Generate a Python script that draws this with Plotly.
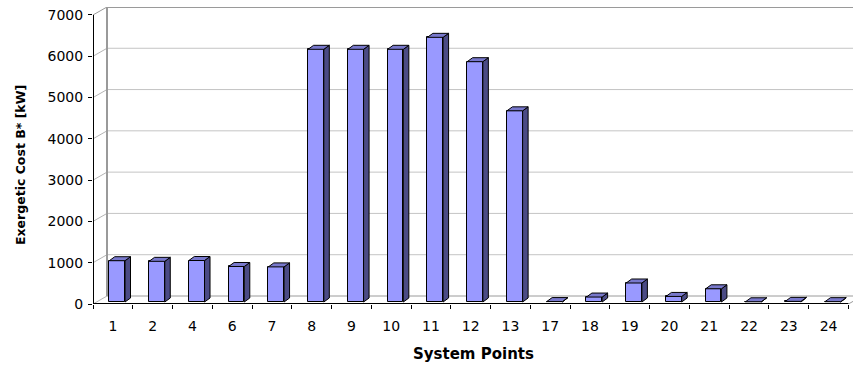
import plotly.graph_objects as go

# Exergetic cost per system point
points = ["1", "2", "4", "6", "7", "8", "9", "10", "11", "12", "13",
          "17", "18", "19", "20", "21", "22", "23", "24"]
cost_kw = [1000, 985, 1005, 860, 850, 6120, 6120, 6120, 6410, 5820, 4630,
           10, 120, 460, 135, 320, 5, 15, 8]
y_ticks = [0, 1000, 2000, 3000, 4000, 5000, 6000, 7000]

# ---- pseudo-3D geometry (data units) ----
PX_X = 39.76            # pixels per category
PX_Y = 297 / 7193.0     # pixels per kW
n = len(points)
X_MAX = 760 / PX_X
Y_MAX = 7193

WALL_DX = 14 / PX_X     # depth offset of back wall
WALL_DY = 8 / PX_Y
BAR_L = 0.41            # front face left edge within category
BAR_W = 0.395
BAR_DX = 5.5 / PX_X     # bar depth
BAR_DY = 4 / PX_Y
BAR_BASE = 2 / PX_Y

FRONT = "#9999FF"
TOP = "#7878CC"
SIDE = "#4B4B85"

fig = go.Figure()

# front faces
fig.add_trace(go.Bar(
    x=[i + BAR_L + BAR_W / 2 for i in range(n)],
    y=cost_kw, base=BAR_BASE, width=BAR_W,
    marker=dict(color=FRONT, line=dict(color="black", width=1)),
    hoverinfo="skip", showlegend=False,
))

# top and side faces
top_x, top_y, side_x, side_y = [], [], [], []
for i, v in enumerate(cost_kw):
    x0 = i + BAR_L
    x1 = x0 + BAR_W
    yt = BAR_BASE + v
    top_x += [x0, x0 + BAR_DX, x1 + BAR_DX, x1, x0, None]
    top_y += [yt, yt + BAR_DY, yt + BAR_DY, yt, yt, None]
    side_x += [x1, x1 + BAR_DX, x1 + BAR_DX, x1, x1, None]
    side_y += [BAR_BASE, BAR_BASE + BAR_DY, yt + BAR_DY, yt, BAR_BASE, None]

for xs, ys, col in ((side_x, side_y, SIDE), (top_x, top_y, TOP)):
    fig.add_trace(go.Scatter(
        x=xs, y=ys, mode="lines", fill="toself", fillcolor=col,
        line=dict(color="black", width=1), connectgaps=False,
        hoverinfo="skip", showlegend=False,
    ))

shapes = []
# back wall gridlines and left wall diagonals
for v in y_ticks:
    edge = v in (0, 7000)
    col = "#9a9a9a" if edge else "#c4c4c4"
    w = 2 if v == 7000 else 1
    shapes.append(dict(type="line", xref="x", yref="y", layer="below",
                       x0=WALL_DX, x1=X_MAX + 1, y0=v + WALL_DY, y1=v + WALL_DY,
                       line=dict(color=col, width=w)))
    shapes.append(dict(type="line", xref="x", yref="y", layer="below",
                       x0=0, x1=WALL_DX, y0=v, y1=v + WALL_DY,
                       line=dict(color="#9a9a9a" if v == 7000 else "#b4b4b4", width=1)))
# back wall left edge
shapes.append(dict(type="line", xref="x", yref="y", layer="below",
                   x0=WALL_DX, x1=WALL_DX, y0=WALL_DY, y1=7000 + WALL_DY,
                   line=dict(color="#9a9a9a", width=2)))
# floor right edge
shapes.append(dict(type="line", xref="x", yref="y", layer="below",
                   x0=n, x1=n + WALL_DX, y0=0, y1=WALL_DY,
                   line=dict(color="#9a9a9a", width=1)))
# front axis lines
shapes.append(dict(type="line", xref="x", yref="y", layer="above",
                   x0=0, x1=0, y0=0, y1=7000, line=dict(color="black", width=2)))
shapes.append(dict(type="line", xref="x", yref="y", layer="above",
                   x0=0, x1=n, y0=0, y1=0, line=dict(color="black", width=2)))

FONT = "DejaVu Sans, Arial, sans-serif"

fig.update_layout(
    width=853, height=367,
    margin=dict(l=93, r=0, t=7, b=63, pad=0),
    paper_bgcolor="white", plot_bgcolor="white",
    shapes=shapes,
    bargap=0,
    xaxis=dict(
        range=[0, X_MAX], showgrid=False, zeroline=False, showline=False,
        tickmode="array", tickvals=[i + 0.5 for i in range(n)], ticktext=points,
        ticks="outside", ticklen=0, ticklabelstandoff=9,
        tickfont=dict(family=FONT, size=14, color="black"),
        minor=dict(tickmode="linear", tick0=0, dtick=1, ticks="outside",
                   ticklen=4, tickcolor="black", tickwidth=1, showgrid=False),
        fixedrange=True,
    ),
    yaxis=dict(
        range=[0, Y_MAX], showgrid=False, zeroline=False, showline=False,
        tickmode="array", tickvals=y_ticks,
        ticks="outside", ticklen=4, tickcolor="black", tickwidth=1,
        ticklabelstandoff=2,
        tickfont=dict(family=FONT, size=14, color="black"),
        fixedrange=True,
    ),
    annotations=[
        dict(text="<b>System Points</b>", xref="paper", yref="paper",
             x=(473 - 93) / 760, y=-(354 - 304) / 297, xanchor="center", yanchor="middle",
             showarrow=False, font=dict(family=FONT, size=15, color="black")),
        dict(text="<b>Exergetic Cost B* [kW]</b>", xref="paper", yref="paper",
             x=-(93 - 20) / 760, y=(304 - 165) / 297, xanchor="center", yanchor="middle",
             textangle=-90, showarrow=False,
             font=dict(family=FONT, size=12.5, color="black")),
    ],
)

fig.write_html("out.html")
